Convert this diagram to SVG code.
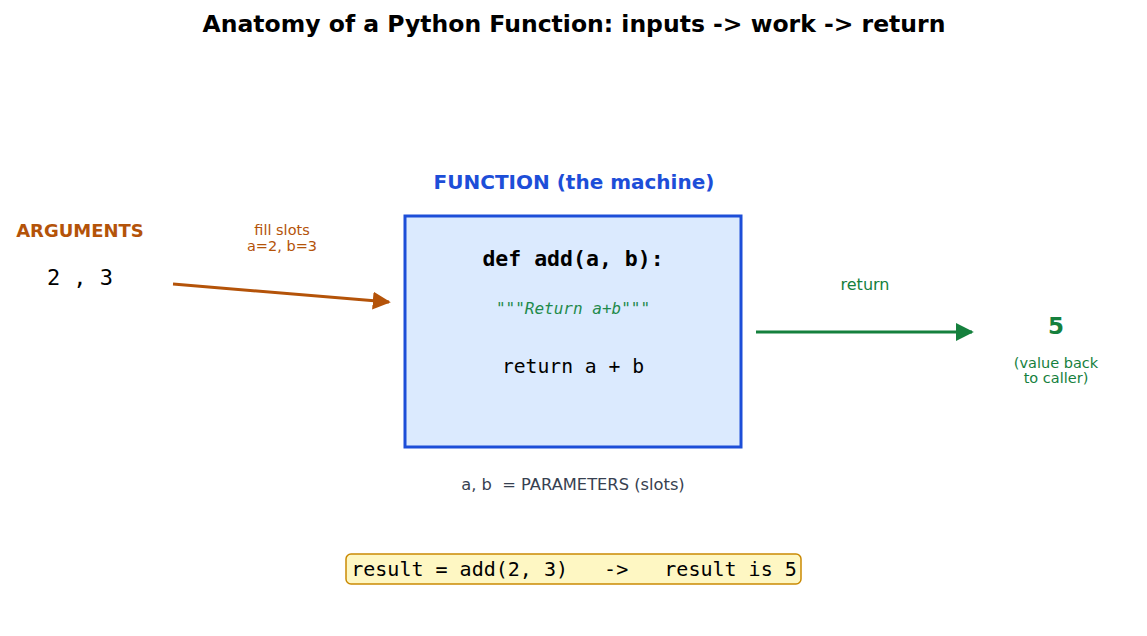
<svg xmlns="http://www.w3.org/2000/svg" width="1147" height="636" viewBox="0 0 1147 636">
<style>
.sans{font-family:"DejaVu Sans","Liberation Sans",sans-serif}
.mono{font-family:"DejaVu Sans Mono","Liberation Mono",monospace}
.orange{fill:#b45309}
.green{fill:#15803d}
</style>
<defs>
<marker id="ah-o" viewBox="0 0 10 10" refX="9" refY="5" markerWidth="6" markerHeight="6" markerUnits="strokeWidth" orient="auto"><path d="M0,0 L10,5 L0,10 z" fill="#b45309"/></marker>
<marker id="ah-g" viewBox="0 0 10 10" refX="9" refY="5" markerWidth="6" markerHeight="6" markerUnits="strokeWidth" orient="auto"><path d="M0,0 L10,5 L0,10 z" fill="#15803d"/></marker>
</defs>
<rect width="1147" height="636" fill="#fff"/>
<text x="574" y="32" text-anchor="middle" class="sans" font-size="23.5" font-weight="bold" fill="#000">Anatomy of a Python Function: inputs -&gt; work -&gt; return</text>

<g id="arguments">
<text x="80" y="237" text-anchor="middle" class="sans orange" font-size="18" font-weight="bold">ARGUMENTS</text>
<text x="80" y="285" text-anchor="middle" class="mono" font-size="22" fill="#000">2 , 3</text>
</g>

<g id="function">
<text x="574" y="189" text-anchor="middle" class="sans" font-size="20" font-weight="bold" fill="#1d4ed8">FUNCTION (the machine)</text>
<rect x="405" y="216" width="336" height="231" fill="#dbeafe" stroke="#1d4ed8" stroke-width="3"/>
<text x="573" y="266" text-anchor="middle" class="mono" font-size="21.5" font-weight="bold" fill="#000">def add(a, b):</text>
<text x="573" y="314" text-anchor="middle" class="mono" font-size="16" font-style="italic" fill="#1f8a4c">"""Return a+b"""</text>
<text x="573" y="373" text-anchor="middle" class="mono" font-size="19.7" fill="#000">return a + b</text>
</g>

<g id="params">
<text x="573" y="490" text-anchor="middle" class="sans" font-size="16.3" fill="#374151" xml:space="preserve">a, b  = PARAMETERS (slots)</text>
</g>

<g id="result">
<text x="1056" y="334" text-anchor="middle" class="sans green" font-size="23" font-weight="bold">5</text>
<text x="1056" y="368" text-anchor="middle" class="sans green" font-size="14.5">(value back</text>
<text x="1056" y="383" text-anchor="middle" class="sans green" font-size="14.5">to caller)</text>
</g>

<g id="summary">
<rect x="346" y="554" width="455" height="30" rx="5" fill="#fef7c3" stroke="#ca8a04" stroke-width="1.5"/>
<text x="574" y="576" text-anchor="middle" class="mono" font-size="20" fill="#000" xml:space="preserve">result = add(2, 3)   -&gt;   result is 5</text>
</g>

<g id="connectors">
<line x1="173" y1="284" x2="389" y2="302" stroke="#b45309" stroke-width="3" marker-end="url(#ah-o)"/>
<text x="282" y="235" text-anchor="middle" class="sans orange" font-size="14.5">fill slots</text>
<text x="282" y="251" text-anchor="middle" class="sans orange" font-size="14.5">a=2, b=3</text>
<line x1="756" y1="332" x2="972" y2="332" stroke="#15803d" stroke-width="3" marker-end="url(#ah-g)"/>
<text x="865" y="290" text-anchor="middle" class="sans green" font-size="16">return</text>
</g>
</svg>
